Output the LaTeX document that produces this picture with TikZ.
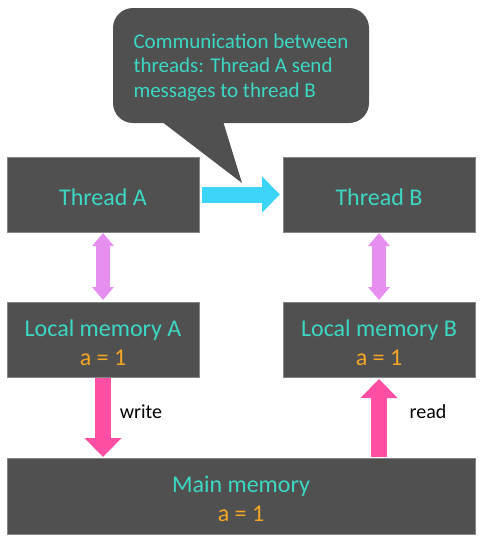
\documentclass[tikz,border=0pt]{standalone}
\usepackage{fontspec}
\setmainfont{Carlito}
\usetikzlibrary{arrows.meta}
\definecolor{boxgray}{HTML}{505050}
\definecolor{boxedge}{HTML}{858585}
\definecolor{teal}{HTML}{3CD8C4}
\definecolor{orng}{HTML}{F5A623}
\definecolor{pinkarrow}{HTML}{FF4FA5}
\definecolor{purparrow}{HTML}{E68FF0}
\definecolor{cyanarrow}{HTML}{3DD4FA}
\newcommand\tup{\rule{0pt}{23pt}}
\begin{document}
\begin{tikzpicture}[x=1pt,y=-1pt,
  membox/.style={draw=boxedge, line width=0.8pt, fill=boxgray, text=teal, minimum width=192pt, minimum height=75pt, outer sep=0pt, inner sep=0pt, align=center, font=\fontsize{24}{29}\selectfont},
  lbl/.style={text=black, font=\fontsize{20}{24}\selectfont},
  syncarrow/.style={draw=purparrow, line width=14pt, {Triangle[width=21pt,length=13pt]}-{Triangle[width=21pt,length=13pt]}},
  rwarrow/.style={draw=pinkarrow, line width=16pt, -{Triangle[width=36pt,length=19pt]}},
  msgarrow/.style={draw=cyanarrow, line width=16pt, -{Triangle[width=35pt,length=18pt]}}
]
\useasboundingbox (0,0) rectangle (481,539);
% callout shape
\fill[boxgray, rounded corners=20pt] (113,8) rectangle (369,123);
\fill[boxgray] (157,118) -- (222,118) -- (242,183) -- cycle;
\node[inner sep=0pt, text=teal, align=left, font=\fontsize{21}{24.5}\selectfont] (callout) at (241,67.5) {Communication between\\threads: Thread A send\\messages to thread B};
% boxes
\node[membox] (threadA) at (103,194.5) {\tup Thread A};
\node[membox] (threadB) at (379,194.5) {\tup Thread B};
\node[membox] (localA) at (103,339.5) {\tup Local memory A\\\textcolor{orng}{a = 1}};
\node[membox] (localB) at (379,339.5) {\tup Local memory B\\\textcolor{orng}{a = 1}};
\node[membox, minimum width=468pt, minimum height=76pt] (main) at (241,496) {\tup Main memory\\\textcolor{orng}{a = 1}};
% arrows
\draw[msgarrow, shorten <=3pt, shorten >=3pt] (threadA.east) -- (threadB.west);
\draw[syncarrow, shorten <=1pt, shorten >=2pt] (threadA.south) -- (localA.north);
\draw[syncarrow, shorten <=1pt, shorten >=2pt] (threadB.south) -- (localB.north);
\draw[rwarrow, shorten <=1pt, shorten >=1pt] (localA.south) -- (main.north -| localA.south);
\draw[rwarrow, shorten <=1pt, shorten >=2pt] (main.north -| localB.south) -- (localB.south);
\node[lbl] (wlbl) at (141,412) {write};
\node[lbl] (rlbl) at (428,412) {read};
\end{tikzpicture}
\end{document}
